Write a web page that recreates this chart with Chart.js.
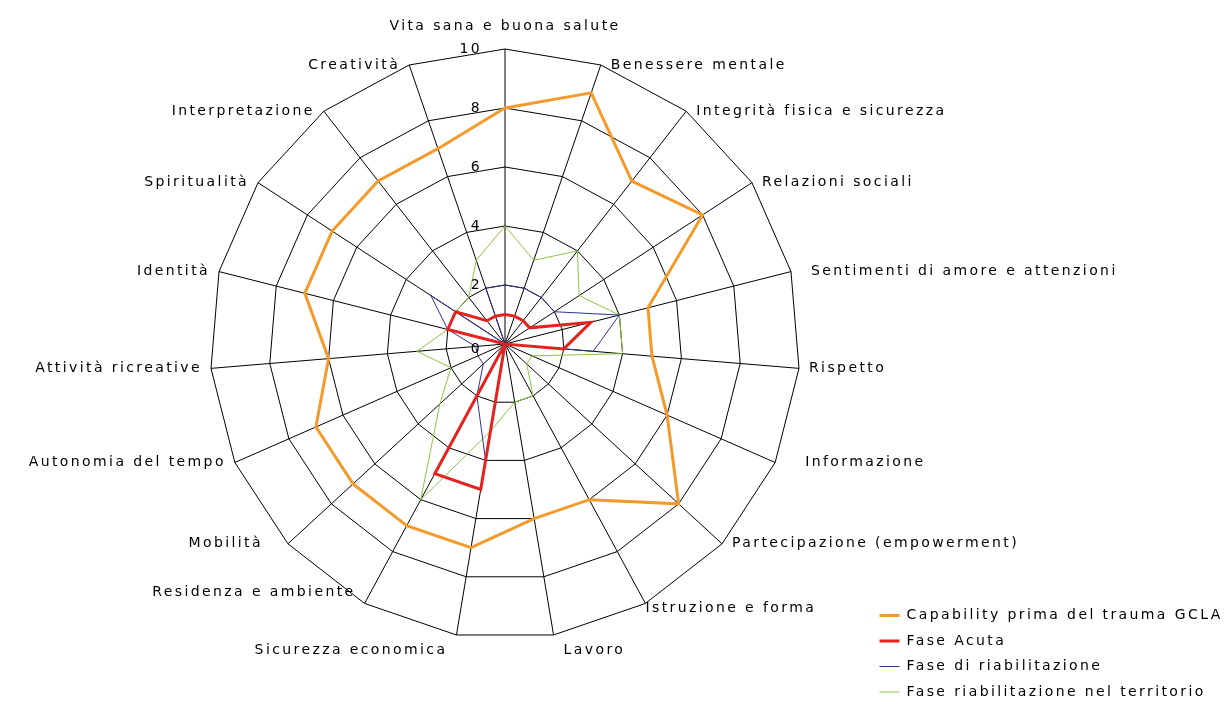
<!DOCTYPE html>
<html>
<head>
<meta charset="utf-8">
<script src="https://cdn.jsdelivr.net/npm/chart.js@4/dist/chart.umd.min.js"></script>
<style>
  html, body { margin: 0; padding: 0; background: #fff; }
  #wrap { position: relative; width: 1230px; height: 709px; }
  canvas { display: block; }
</style>
</head>
<body>
<div id="wrap"><canvas id="c" width="1230" height="709"></canvas></div>
<script>
const categories = [
  "Vita sana e buona salute", "Benessere mentale", "Integrità fisica e sicurezza",
  "Relazioni sociali", "Sentimenti di amore e attenzioni", "Rispetto", "Informazione",
  "Partecipazione (empowerment)", "Istruzione e forma", "Lavoro", "Sicurezza economica",
  "Residenza e ambiente", "Mobilità", "Autonomia del tempo", "Attività ricreative",
  "Identità", "Spiritualità", "Interpretazione", "Creatività"
];
const seriesNames = [
  "Capability prima del trauma GCLA", "Fase Acuta",
  "Fase di riabilitazione", "Fase riabilitazione nel territorio"
];
const capabilityPrima = [8, 9, 7, 8, 5, 5, 6, 8, 6, 6, 7, 7, 7, 7, 6, 7, 7, 7, 7];
const faseAcuta       = [1, 1, 1, 1, 3, 2, 0, 0, 0, 0, 5, 5, 0, 0, 0, 2, 2, 1, 1];
const faseRiab        = [2, 2, 2, 2, 4, 3, 0, 0, 0, 0, 4, 2, 1, 1, 1, 2, 3, 0, 2];
const faseTerritorio  = [4, 3, 4, 3, 4, 4, 1, 1, 2, 2, 3, 6, 3, 2, 3, 2, 2, 2, 3];
const tickValues = [0, 2, 4, 6, 8, 10];

// small layout nudges for category labels (Excel-like placement), in px
const labelNudgeX = [0, 0, 0, 0, 10, 0, 20, 0, -10, 0, 0, 0, -16, 0, 0, 0, 0, 0, 0];
const labelNudgeY = [0, 0, 0, 0, 0, 0, 0, 0, 5, 15, 15, -11, 0, 0, 0, 0, 0, 0, 0];

const FONT = 'DejaVu Sans';
const LS = '2.4px';

const setSpacing = {
  id: 'spacing',
  beforeUpdate(chart) { chart.ctx.letterSpacing = LS; },
  beforeDraw(chart) { chart.ctx.letterSpacing = LS; }
};

const tickLabelsPlugin = {
  id: 'tickLabels',
  afterDraw(chart) {
    const s = chart.scales.r, ctx = chart.ctx;
    ctx.save();
    ctx.letterSpacing = LS;
    ctx.font = '14px "' + FONT + '"';
    ctx.fillStyle = '#000';
    ctx.textAlign = 'right';
    ctx.textBaseline = 'middle';
    tickValues.forEach(v => {
      const d = s.getDistanceFromCenterForValue(v);
      ctx.fillText(String(v), s.xCenter - 23, s.yCenter - d + (v === 0 ? 5 : 0));
    });
    ctx.restore();
  }
};

const legendPlace = {
  id: 'legendPlace',
  afterLayout(chart) {
    const lg = chart.legend;
    const w = lg.width, h = lg.height;
    lg.left = 868; lg.top = 597;
    lg.right = lg.left + w; lg.bottom = lg.top + h;
  }
};

function ds(label, data, color, width) {
  return {
    label, data,
    borderColor: color, backgroundColor: color,
    borderWidth: width, pointRadius: 0, pointHoverRadius: 0,
    fill: false, tension: 0
  };
}

new Chart(document.getElementById('c'), {
  type: 'radar',
  data: {
    labels: categories,
    datasets: [
      ds(seriesNames[0], capabilityPrima, '#F39A2B', 3),
      ds(seriesNames[1], faseAcuta, '#E2231F', 3),
      ds(seriesNames[2], faseRiab, '#2E3192', 1),
      ds(seriesNames[3], faseTerritorio, '#8DC63F', 1)
    ]
  },
  options: {
    responsive: false,
    animation: false,
    devicePixelRatio: 1,
    layout: { padding: 0 },
    plugins: {
      tooltip: { enabled: false },
      legend: {
        position: 'chartArea',
        align: 'start',
        labels: {
          usePointStyle: true,
          pointStyle: 'line',
          pointStyleWidth: 20,
          padding: 11.5,
          color: '#000',
          font: { family: FONT, size: 14 }
        }
      }
    },
    scales: {
      r: {
        min: 0, max: 10,
        beginAtZero: true,
        ticks: { stepSize: 2, display: false },
        grid: { color: '#000', lineWidth: 1, circular: false },
        angleLines: { color: '#000', lineWidth: 1 },
        pointLabels: { color: '#000', padding: 8, font: { family: FONT, size: 14 } },
        afterSetDimensions(s) {
          s.xCenter = 505; s.yCenter = 344; s.drawingArea = 295;
          s.left = -5000; s.right = 6000; s.top = -5000; s.bottom = 6000;
        },
        afterFit(s) {
          const lh = 14 * 1.2;
          s._pointLabelItems.forEach((it, i) => {
            const p = s.getPointPosition(i, s.drawingArea);
            let deg = Math.round((p.angle + Math.PI / 2) * 180 / Math.PI);
            deg = ((deg % 360) + 360) % 360;
            let x, cy, align;
            if (deg === 0) { x = p.x; cy = p.y - 23; align = 'center'; }
            else if (deg < 180) { x = p.x + 10; cy = p.y; align = 'left'; }
            else { x = p.x - 9; cy = p.y; align = 'right'; }
            x += labelNudgeX[i]; cy += labelNudgeY[i];
            it.x = x; it.y = cy - lh / 2; it.textAlign = align; it.visible = true;
          });
        }
      }
    }
  },
  plugins: [setSpacing, legendPlace, tickLabelsPlugin]
});
</script>
</body>
</html>
